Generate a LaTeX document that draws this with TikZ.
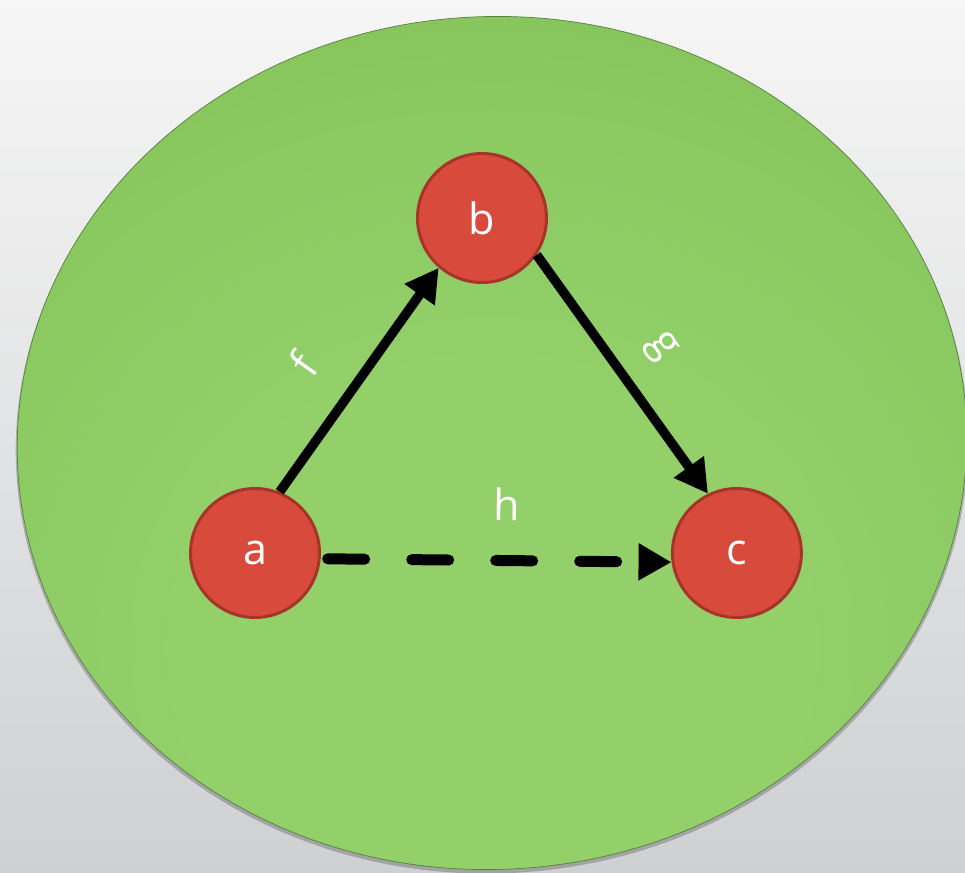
\documentclass[tikz,border=0pt]{standalone}
\usepackage{fontspec}
\setmainfont{Open Sans}
\usepackage{tikz}
\usetikzlibrary{arrows.meta, positioning}
\usepackage{xcolor}
\definecolor{meucinzaclaro}{RGB}{246, 246, 246}
\definecolor{meucinzaescuro}{RGB}{206, 208, 210}
\definecolor{meuverdeclaro}{RGB}{147, 208, 106}
\definecolor{meuverdeescuro}{RGB}{122, 186, 78}
\definecolor{meuverdeborda}{RGB}{88, 128, 60}
\definecolor{meuvermelho}{RGB}{216, 75, 60}
\definecolor{meuvermelhoescuro}{RGB}{166, 52, 40}
\pgfdeclareradialshading{brilhoverde}{\pgfpoint{0bp}{-14bp}}{color(0bp)=(meuverdeclaro); color(16bp)=(meuverdeclaro); color(54bp)=(meuverdeescuro); color(100bp)=(meuverdeescuro)}

\begin{document}
\begin{tikzpicture}[
                x=0.02cm, y=-0.02cm,
                vertice/.style={circle, draw=meuvermelhoescuro, line width=0.06cm, fill=meuvermelho, minimum size=2.58cm, inner sep=0pt, text=white, font=\fontsize{24.5}{29}\selectfont},
                rotulo/.style={text=white, font=\fontsize{24.5}{29}\selectfont, inner sep=0pt, sloped},
                seta/.style={-{Triangle[length=0.66cm, width=0.7cm]}, line width=0.19cm, color=black},
                tracejada/.style={seta, line width=0.22cm, line cap=round, dash pattern=on 0.74cm off 0.94cm}
            ]
                \fill[top color=meucinzaclaro, bottom color=meucinzaescuro] (0,0) rectangle (965,873);
                \useasboundingbox (0,0) rectangle (965,873);
                \fill[black, opacity=0.22, rotate around={3:(492,446)}] (492,446) ellipse [x radius=9.53cm, y radius=8.55cm];
                \shadedraw[shading=brilhoverde, draw=meuverdeborda, line width=0.4pt, rotate around={3:(492,443)}] (492,443) ellipse [x radius=9.5cm, y radius=8.53cm];

                \node[vertice] (a) at (255,553) {a};
                \node[vertice] (b) at (482,218) {b};
                \node[vertice] (c) [right=7cm of a] {c};

                \draw[seta] (a.68) -- node[rotulo, pos=0.43, above=0.67cm] {f} (b.229);
                \draw[seta] (b.-34) -- node[rotulo, above=0.5cm] {g} (c.116);
                \draw[tracejada, shorten <=0.14cm] (a.-5) -- node[rotulo, pos=0.53, above=0.69cm] {h} (c.188);
            \end{tikzpicture}
\end{document}
